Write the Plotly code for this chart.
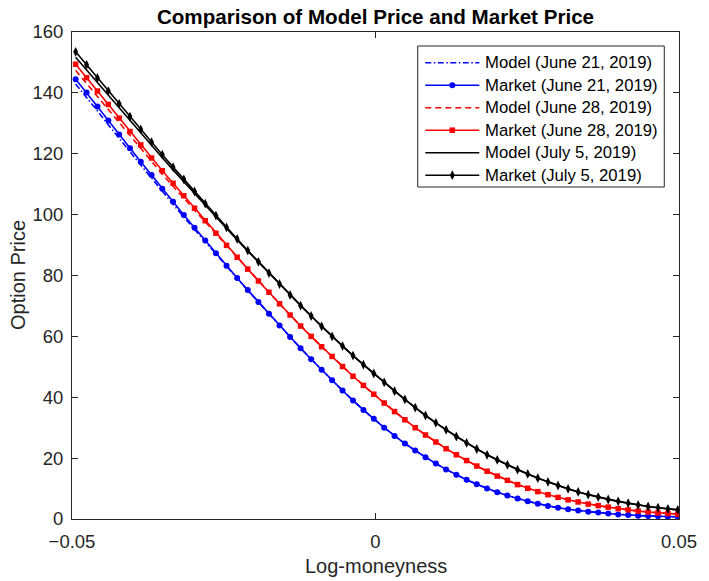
import plotly.graph_objects as go

# Log-moneyness grid
log_moneyness = [
    -0.04940, -0.04760, -0.04581, -0.04402, -0.04223, -0.04045, -0.03867, -0.03689, -0.03512, -0.03335,
    -0.03158, -0.02981, -0.02805, -0.02629, -0.02454, -0.02279, -0.02104, -0.01929, -0.01755, -0.01581,
    -0.01407, -0.01234, -0.01060, -0.00888, -0.00715, -0.00543, -0.00371, -0.00199, -0.00028, 0.00143,
    0.00314, 0.00484, 0.00654, 0.00824, 0.00994, 0.01163, 0.01332, 0.01501, 0.01669, 0.01838,
    0.02006, 0.02173, 0.02340, 0.02508, 0.02674, 0.02841, 0.03007, 0.03173, 0.03339, 0.03504,
    0.03669, 0.03834, 0.03998, 0.04163, 0.04327, 0.04491, 0.04654, 0.04817, 0.04980,
]

market_jun21 = [
    144.5, 140.1, 135.5, 130.9, 126.3, 121.8, 117.4, 113.0, 108.5, 104.2,
    99.9, 95.7, 91.5, 87.3, 83.2, 79.2, 75.2, 71.3, 67.4, 63.6,
    59.8, 56.1, 52.5, 49.0, 45.6, 42.2, 38.9, 35.8, 32.9, 30.0,
    27.3, 24.8, 22.5, 20.3, 18.2, 16.3, 14.5, 12.9, 11.4, 10.0,
    8.8, 7.7, 6.7, 5.8, 5.0, 4.3, 3.7, 3.2, 2.8, 2.4,
    2.1, 1.8, 1.5, 1.3, 1.1, 1.0, 0.9, 0.8, 0.7,
]
model_jun21 = [
    142.9, 138.6, 134.1, 129.5, 125.0, 120.6, 116.3, 112.0, 107.6, 103.4,
    99.2, 95.1, 91.0, 86.9, 82.9, 79.0, 75.1, 71.3, 67.4, 63.6,
    59.8, 56.1, 52.5, 49.0, 45.6, 42.2, 38.9, 35.8, 32.9, 30.0,
    27.3, 24.8, 22.5, 20.3, 18.2, 16.3, 14.5, 12.9, 11.4, 10.0,
    8.8, 7.7, 6.7, 5.8, 5.0, 4.3, 3.7, 3.2, 2.8, 2.4,
    2.1, 1.8, 1.5, 1.3, 1.1, 1.0, 0.9, 0.8, 0.7,
]

market_jun28 = [
    149.4, 145.0, 140.6, 136.2, 131.7, 127.3, 122.9, 118.6, 114.4, 110.3,
    106.2, 102.1, 98.0, 93.9, 89.9, 86.0, 82.1, 78.2, 74.5, 70.7,
    67.0, 63.4, 60.0, 56.6, 53.4, 50.1, 46.9, 43.9, 41.0, 38.1,
    35.3, 32.6, 30.0, 27.6, 25.3, 23.1, 21.1, 19.2, 17.4, 15.7,
    14.1, 12.7, 11.3, 10.1, 9.0, 8.0, 7.1, 6.3, 5.6, 4.9,
    4.4, 3.9, 3.4, 3.0, 2.6, 2.3, 2.0, 1.8, 1.6,
]
model_jun28 = [
    147.4, 143.1, 138.8, 134.5, 130.1, 125.8, 121.5, 117.3, 113.3, 109.3,
    105.4, 101.4, 97.5, 93.5, 89.6, 85.8, 82.0, 78.2, 74.5, 70.7,
    67.0, 63.4, 60.0, 56.6, 53.4, 50.1, 46.9, 43.9, 41.0, 38.1,
    35.3, 32.6, 30.0, 27.6, 25.3, 23.1, 21.1, 19.2, 17.4, 15.7,
    14.1, 12.7, 11.3, 10.1, 9.0, 8.0, 7.1, 6.3, 5.6, 4.9,
    4.4, 3.9, 3.4, 3.0, 2.6, 2.3, 2.0, 1.8, 1.6,
]

market_jul5 = [
    153.5, 149.2, 144.9, 140.6, 136.4, 132.2, 128.0, 123.8, 119.7, 115.6,
    111.6, 107.6, 103.6, 99.7, 95.8, 92.0, 88.2, 84.5, 80.8, 77.2,
    73.6, 70.1, 66.7, 63.3, 60.0, 56.8, 53.7, 50.7, 47.8, 44.9,
    42.0, 39.3, 36.6, 34.0, 31.6, 29.3, 27.1, 25.0, 23.0, 21.1,
    19.4, 17.8, 16.2, 14.8, 13.4, 12.2, 11.0, 9.9, 8.9, 8.0,
    7.2, 6.4, 5.8, 5.2, 4.6, 4.1, 3.7, 3.3, 3.0,
]
model_jul5 = [
    151.7, 147.5, 143.3, 139.1, 135.0, 130.9, 126.8, 122.7, 118.7, 114.7,
    110.8, 106.9, 103.0, 99.2, 95.4, 91.7, 88.0, 84.4, 80.8, 77.2,
    73.6, 70.1, 66.7, 63.3, 60.0, 56.8, 53.7, 50.7, 47.8, 44.9,
    42.0, 39.3, 36.6, 34.0, 31.6, 29.3, 27.1, 25.0, 23.0, 21.1,
    19.4, 17.8, 16.2, 14.8, 13.4, 12.2, 11.0, 9.9, 8.9, 8.0,
    7.2, 6.4, 5.8, 5.2, 4.6, 4.1, 3.7, 3.3, 3.0,
]

legend_labels = [
    "Model (June 21, 2019)", "Market (June 21, 2019)",
    "Model (June 28, 2019)", "Market (June 28, 2019)",
    "Model (July 5, 2019)", "Market (July 5, 2019)",
]

x_tickvals = [-0.05, 0, 0.05]
x_ticktext = ["\u22120.05", "0", "0.05"]
y_tickvals = [0, 20, 40, 60, 80, 100, 120, 140, 160]

FONT = "Liberation Sans, Arial, Helvetica, sans-serif"
AX = "#262626"
LW = 1.6
BLUE, RED, BLACK = "#0000ff", "#ff0000", "#000000"
DASH = "6px,4px"
DASHDOT = "6px,2.5px,1.5px,2.5px"

styles = [
    dict(line=dict(color=BLUE, width=LW, dash=DASHDOT), marker=None),
    dict(line=dict(color=BLUE, width=LW), marker=dict(symbol="circle", size=6, color=BLUE)),
    dict(line=dict(color=RED, width=LW, dash=DASH), marker=None),
    dict(line=dict(color=RED, width=LW), marker=dict(symbol="square", size=5.5, color=RED)),
    dict(line=dict(color=BLACK, width=LW), marker=None),
    dict(line=dict(color=BLACK, width=LW), marker=dict(symbol="diamond-tall", size=7, color=BLACK)),
]
series = [model_jun21, market_jun21, model_jun28, market_jun28, model_jul5, market_jul5]

fig = go.Figure()
for name, ys, st in zip(legend_labels, series, styles):
    if st["marker"] is None:
        fig.add_trace(go.Scatter(x=log_moneyness, y=ys, mode="lines", name=name,
                                 line=st["line"], showlegend=False))
    else:
        fig.add_trace(go.Scatter(x=log_moneyness, y=ys, mode="lines+markers", name=name,
                                 line=st["line"], marker=st["marker"], showlegend=False))

# ---- MATLAB-style legend drawn on an overlay axis in page pixels ----
# plot area in page pixels: x 72..690, y 32..519
LEG_X0, LEG_X1, LEG_Y0, LEG_Y1 = 424, 675, 46, 187
row_y = [62.7, 85.2, 107.7, 130.2, 152.7, 175.2]
for lab, st, ry in zip(legend_labels, styles, row_y):
    fig.add_trace(go.Scatter(x=[431.7, 486.7], y=[ry, ry], mode="lines", line=st["line"],
                             xaxis="x2", yaxis="y2", showlegend=False, hoverinfo="skip"))
    if st["marker"] is not None:
        fig.add_trace(go.Scatter(x=[459.2], y=[ry], mode="markers", marker=st["marker"],
                                 xaxis="x2", yaxis="y2", showlegend=False, hoverinfo="skip"))

axis_common = dict(
    showline=True, linecolor=AX, linewidth=1, mirror="allticks",
    ticks="inside", ticklen=6, tickcolor=AX, tickwidth=1,
    showgrid=False, zeroline=False,
    tickfont=dict(family=FONT, size=18.5, color=AX),
)

W, H = 709, 581
annotations = [
    dict(text="Log-moneyness", x=0.5, xref="paper", y=-(566 - 519) / 487, yref="paper",
         showarrow=False, font=dict(family=FONT, size=20, color=AX),
         xanchor="center", yanchor="middle"),
    dict(text="Option Price", x=-(72 - 17) / 618, xref="paper", y=(519 - 275) / 487, yref="paper",
         showarrow=False, font=dict(family=FONT, size=20, color=AX), textangle=-90,
         xanchor="center", yanchor="middle"),
]
for lab, ry in zip(legend_labels, row_y):
    annotations.append(dict(text=lab, x=490.5, y=ry, xref="x2", yref="y2", showarrow=False,
                            xanchor="left", yanchor="middle",
                            font=dict(family=FONT, size=16.7, color="#000000")))

fig.update_layout(
    width=W, height=H, autosize=False,
    margin=dict(l=72, r=19, t=32, b=62),
    paper_bgcolor="white", plot_bgcolor="white",
    font=dict(family=FONT, color=AX),
    title=dict(text="<b>Comparison of Model Price and Market Price</b>",
               font=dict(family=FONT, size=20.6, color="#000000"),
               x=0.5, xref="paper", xanchor="center",
               y=1 - 16.5 / H, yref="container", yanchor="middle"),
    xaxis=dict(range=[-0.05, 0.05], tickvals=x_tickvals, ticktext=x_ticktext,
               ticklabelstandoff=6, **axis_common),
    yaxis=dict(range=[0, 160], tickvals=y_tickvals, ticklabelstandoff=4, **axis_common),
    xaxis2=dict(overlaying="x", range=[72, 690], visible=False, fixedrange=True),
    yaxis2=dict(overlaying="y", range=[519, 32], visible=False, fixedrange=True),
    showlegend=False,
    hovermode=False,
    shapes=[dict(type="rect", xref="x2", yref="y2", x0=LEG_X0, x1=LEG_X1, y0=LEG_Y0, y1=LEG_Y1,
                 line=dict(color=AX, width=1), fillcolor="white", layer="below")],
    annotations=annotations,
)

# remove the default 8px page margin so the figure fills the window exactly
fig.write_html("out.html",
               config=dict(displayModeBar=False, staticPlot=True),
               post_script="document.body.style.margin='0px';document.body.style.overflow='hidden';")
